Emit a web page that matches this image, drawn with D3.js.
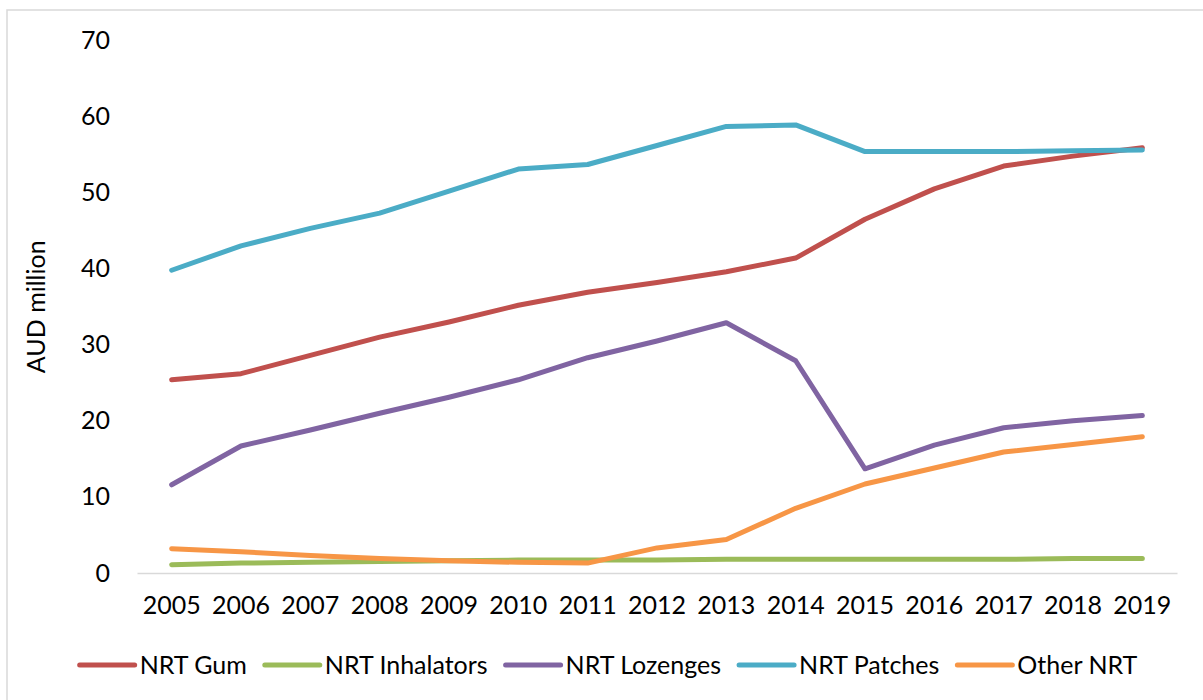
<!DOCTYPE html>
<html>
<head>
<meta charset="utf-8">
<script src="https://cdn.jsdelivr.net/npm/d3@7"></script>
<style>
  html, body { margin: 0; padding: 0; background: #fff; }
  svg { display: block; }
</style>
</head>
<body>
<div id="chart"></div>
<script>
'use strict';

// Data
var years = ['2005', '2006', '2007', '2008', '2009', '2010', '2011', '2012', '2013', '2014', '2015', '2016', '2017', '2018', '2019'];
var seriesNames = ['NRT Gum', 'NRT Inhalators', 'NRT Lozenges', 'NRT Patches', 'Other NRT'];
var gum = [25.4, 26.2, 28.6, 31.0, 33.0, 35.2, 36.9, 38.2, 39.6, 41.4, 46.5, 50.5, 53.5, 54.8, 55.9];
var inhalators = [1.1, 1.3, 1.4, 1.5, 1.6, 1.7, 1.7, 1.7, 1.8, 1.8, 1.8, 1.8, 1.8, 1.9, 1.9];
var lozenges = [11.6, 16.7, 18.8, 21.0, 23.1, 25.4, 28.3, 30.5, 32.9, 27.9, 13.7, 16.8, 19.1, 20.0, 20.7];
var patches = [39.8, 43.0, 45.3, 47.3, 50.2, 53.1, 53.7, 56.2, 58.7, 58.9, 55.4, 55.4, 55.4, 55.5, 55.6];
var otherNrt = [3.2, 2.8, 2.3, 1.9, 1.6, 1.4, 1.3, 3.3, 4.4, 8.5, 11.7, 13.8, 15.9, 16.9, 17.9];
var yTicks = [0, 10, 20, 30, 40, 50, 60, 70];

var seriesValues = [gum, inhalators, lozenges, patches, otherNrt];
var colors = ['#C0504D', '#9BBB59', '#8064A2', '#4BACC6', '#F79646'];

var settings = {}
settings.font_family = 'Lato, "Open Sans", sans-serif'
settings.font_size = '25px'
settings.line_width = 5
settings.text_color = '#000'

var width = 1203, height = 700;
var margin = {top: 40.5, right: 26, bottom: 127, left: 137};

var svg = d3.select('#chart').append('svg')
    .attr('width', width)
    .attr('height', height);

// chart frame
svg.append('rect')
    .attr('x', 7)
    .attr('y', 10)
    .attr('width', width)
    .attr('height', height)
    .attr('fill', 'none')
    .attr('stroke', '#d9d9d9')
    .attr('stroke-width', 1.5);

var x = d3.scaleBand()
    .domain(years)
    .range([margin.left, width - margin.right]);

var y = d3.scaleLinear()
    .domain([0, 70])
    .range([height - margin.bottom, margin.top]);

var xc = function(d) { return x(d) + x.bandwidth() / 2 };

// y axis labels (no axis line)
var yAxis = svg.append('g')
    .attr('transform', 'translate(' + (margin.left - 27) + ',0)')
    .call(d3.axisLeft(y).tickValues(yTicks).tickSize(0).tickPadding(0));
yAxis.select('.domain').remove();
yAxis.selectAll('text')
    .attr('font-family', settings.font_family)
    .attr('font-size', settings.font_size)
    .attr('fill', settings.text_color);

// x axis
var xAxis = svg.append('g')
    .attr('transform', 'translate(0,' + y(0) + ')')
    .call(d3.axisBottom(x).tickSize(0).tickPadding(23));
xAxis.select('.domain')
    .attr('stroke', '#d9d9d9')
    .attr('stroke-width', 1.5);
xAxis.selectAll('text')
    .attr('font-family', settings.font_family)
    .attr('font-size', settings.font_size)
    .attr('fill', settings.text_color);

// y axis title
svg.append('text')
    .attr('transform', 'translate(36,' + ((y(0) + y(70)) / 2) + ') rotate(-90)')
    .attr('text-anchor', 'middle')
    .attr('dy', '0.35em')
    .attr('font-family', settings.font_family)
    .attr('font-size', settings.font_size)
    .attr('fill', settings.text_color)
    .text('AUD million');

// lines
var line = d3.line()
    .x(function(d, i) { return xc(years[i]) })
    .y(function(d) { return y(d) });

seriesValues.forEach(function(vals, i) {
  svg.append('path')
      .datum(vals)
      .attr('d', line)
      .attr('fill', 'none')
      .attr('stroke', colors[i])
      .attr('stroke-width', settings.line_width)
      .attr('stroke-linecap', 'round')
      .attr('stroke-linejoin', 'round');
});

// legend
var legend = svg.append('g');
var lx = 0;
var legendY = 665;
seriesNames.forEach(function(name, i) {
  legend.append('line')
      .attr('x1', lx).attr('x2', lx + 55)
      .attr('y1', legendY).attr('y2', legendY)
      .attr('stroke', colors[i])
      .attr('stroke-width', settings.line_width)
      .attr('stroke-linecap', 'round');
  var t = legend.append('text')
      .attr('x', lx + 60)
      .attr('y', legendY)
      .attr('dy', '0.35em')
      .attr('font-family', settings.font_family)
      .attr('font-size', settings.font_size)
      .attr('fill', settings.text_color)
      .text(name);
  lx += 60 + t.node().getComputedTextLength() + 18;
});
var legendW = lx - 18;
legend.attr('transform', 'translate(' + (608.5 - legendW / 2) + ',0)');
</script>
</body>
</html>
